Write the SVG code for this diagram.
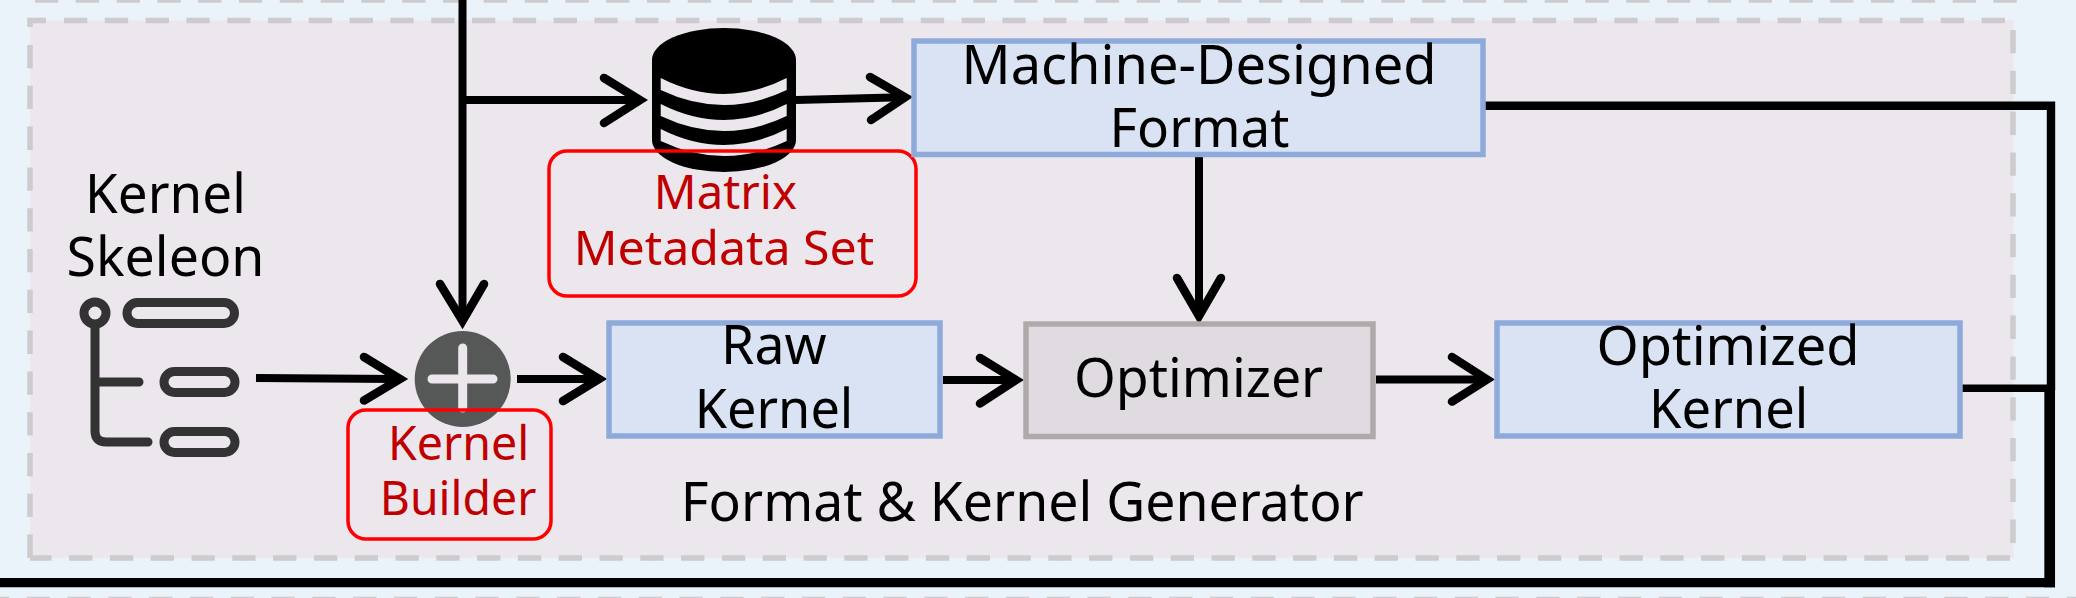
<svg xmlns="http://www.w3.org/2000/svg" width="2076" height="598" viewBox="0 0 2076 598">
<style>
text{font-family:"Noto Sans","Open Sans","Liberation Sans",sans-serif;text-anchor:start;fill:#000}
.b{font-size:55px}
.r{font-size:48px;fill:#c00000}
.blue{fill:#d9e3f3;stroke:#8eaadb;stroke-width:5.5}
.red{fill:none;stroke:#ff0000;stroke-width:3.5}
.dash{fill:none;stroke:#cdcbcd;stroke-width:5.5;stroke-dasharray:23.3 17.5}
.c{fill:none;stroke:#000;stroke-width:8}
.h{fill:none;stroke:#000;stroke-width:8.5;stroke-linecap:round;stroke-linejoin:miter;stroke-miterlimit:10}
.ic{fill:none;stroke:#333;stroke-width:9}
</style>
<rect width="2076" height="598" fill="#eaf2fa"/>
<path class="dash" d="M35 0H2017M2090 599.5H0"/>
<g id="container">
<rect x="30" y="20.5" width="1983.5" height="537.5" fill="#ece7ed"/>
<path class="dash" d="M64 20.5H2013M2013 30V558M2010 558H30M30 45V558"/>
<path d="M46 20.5H30V27" fill="none" stroke="#cdcbcd" stroke-width="5.5"/>
<text class="b" x="680.8" y="520.6" textLength="682.9" lengthAdjust="spacingAndGlyphs">Format &amp; Kernel Generator</text>
</g>
<g id="connectors">
<path class="c" d="M462.5 0V320M466 100H636M796 100L902 97.2M1199 157V315M943 380H1014M1376 379.5H1484M517 379H597M256 378L398 379"/>
<path class="c" style="stroke-width:8.4" d="M1485 105.8H2051V390"/>
<path class="c" style="stroke-width:10.7" d="M2049.7 388V587.3"/>
<path class="c" style="stroke-width:9.3" d="M2055 582.7H0"/>
<path class="c" style="stroke-width:7.6" d="M1962 388.2H2051"/>
<path class="h" d="M440 284L462.5 321L484 284M604 78L640 100L604 123M870 77L905 97.3L871 120M1177 278L1199 316L1221 278M980 358L1016 380L980 403.5M1452 357L1487 379.5L1452 401.6M563 357L599 379L563 401M364 357L400 379L364 400.5"/>
</g>
<g id="kernel-skeleton">
<text class="b" x="85.1" y="213" textLength="160.7" lengthAdjust="spacingAndGlyphs">Kernel</text>
<text class="b" x="66.5" y="276" textLength="198" lengthAdjust="spacingAndGlyphs">Skeleon</text>
<circle class="ic" cx="95" cy="313" r="11"/>
<rect class="ic" x="127" y="302.5" width="107.5" height="21" rx="10.5"/>
<rect class="ic" x="164" y="371.5" width="71" height="21" rx="10.5"/>
<rect class="ic" x="164" y="431.5" width="71" height="21" rx="10.5"/>
<path class="ic" stroke-linecap="round" d="M95 326V431Q95 442 106 442H148M95 382H139"/>
</g>
<g id="kernel-builder">
<circle cx="462.7" cy="379" r="48" fill="#555857"/>
<path d="M432 379H493M462.7 348V408" fill="none" stroke="#ece7ed" stroke-width="9" stroke-linecap="round"/>
<rect class="red" x="348" y="410" width="203" height="129" rx="18"/>
<text class="r" x="387.9" y="459.6" textLength="141.3" lengthAdjust="spacingAndGlyphs">Kernel</text>
<text class="r" x="379.8" y="515" textLength="156.6" lengthAdjust="spacingAndGlyphs">Builder</text>
</g>
<g id="matrix-metadata-set">
<path d="M652 60A72 32 0 0 1 796 60V140A72 32 0 0 1 652 140Z" fill="#000"/>
<path fill="#ece7ed" d="M660.7 78Q724 110 786.7 78V90Q724 120 660.7 90ZM660.7 104Q724 136 786.7 104V116Q724 146 660.7 116ZM660.7 129Q724 161 786.7 129V141Q724 171 660.7 141Z"/>
<rect class="red" x="549" y="151" width="367" height="145" rx="18"/>
<text class="r" x="653.8" y="209" textLength="143.1" lengthAdjust="spacingAndGlyphs">Matrix</text>
<text class="r" x="573.7" y="265" textLength="300.6" lengthAdjust="spacingAndGlyphs">Metadata Set</text>
</g>
<g id="machine-designed-format">
<rect class="blue" x="914" y="41" width="569" height="113.5"/>
<text class="b" x="961.6" y="84" textLength="474.9" lengthAdjust="spacingAndGlyphs">Machine-Designed</text>
<text class="b" x="1109.6" y="147" textLength="179.9" lengthAdjust="spacingAndGlyphs">Format</text>
</g>
<g id="raw-kernel">
<rect class="blue" x="609" y="323" width="331" height="113"/>
<text class="b" x="721.1" y="364" textLength="105.4" lengthAdjust="spacingAndGlyphs">Raw</text>
<text class="b" x="694.8" y="428" textLength="158.5" lengthAdjust="spacingAndGlyphs">Kernel</text>
</g>
<g id="optimizer">
<rect x="1026" y="324" width="347" height="112.5" fill="#e0dbe1" stroke="#aeaaaa" stroke-width="5.5"/>
<text class="b" x="1074" y="396.6" textLength="249.2" lengthAdjust="spacingAndGlyphs">Optimizer</text>
</g>
<g id="optimized-kernel">
<rect class="blue" x="1497" y="323" width="463" height="113"/>
<text class="b" x="1596.5" y="365" textLength="263" lengthAdjust="spacingAndGlyphs">Optimized</text>
<text class="b" x="1649.1" y="428" textLength="159.2" lengthAdjust="spacingAndGlyphs">Kernel</text>
</g>
</svg>
